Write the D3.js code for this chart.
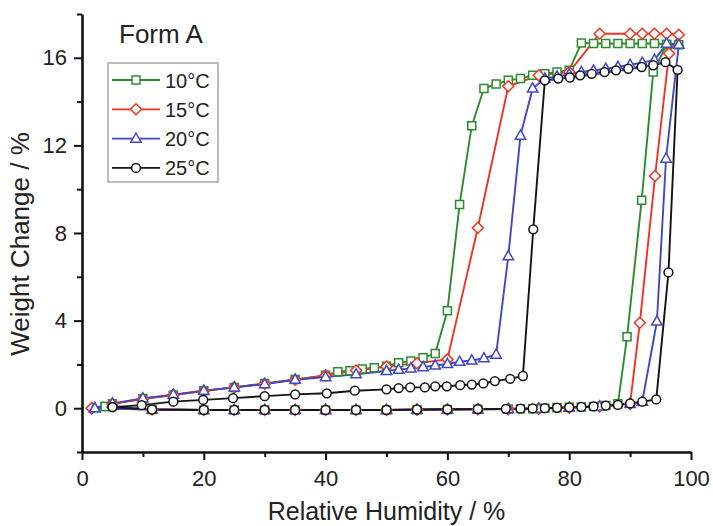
<!DOCTYPE html>
<html>
<head>
<meta charset="utf-8">
<script src="https://cdn.jsdelivr.net/npm/d3@7"></script>
<style>
  body { margin: 0; background: #fff; }
  text { font-family: "Liberation Sans", Arial, Helvetica, sans-serif; fill: #222; }
</style>
</head>
<body>
<svg id="chart" width="713" height="526"></svg>
<script>
// Water sorption / desorption isotherms of Form A: [relative humidity %, weight change %]
const sorp10 = [[3.8,0.08],[11.5,-0.06],[20,-0.08],[25,-0.08],[30,-0.08],[35,-0.08],[40,-0.08],[45,-0.08],[50,-0.08],[55,-0.07],[60,-0.06],[65,-0.05],[70,-0.04],[72,-0.03],[74,-0.02],[76,0],[78,0.02],[80,0.04],[82,0.06],[84,0.08],[86,0.12],[88,0.2],[89.5,3.26],[91.9,9.5],[93.8,15.35],[96,16.6],[98,16.6]];
const desorp10 = [[96,16.62],[94,16.65],[92,16.65],[90,16.65],[88,16.65],[86,16.65],[84,16.65],[82,16.68],[80,15.43],[78,15.35],[76,15.27],[74,15.2],[72,15.05],[70,14.97],[68,14.8],[66,14.6],[64,12.9],[62,9.3],[60,4.45],[58,2.5],[56,2.3],[54,2.15],[52,2.08],[50,1.92],[48,1.85],[46,1.79],[44,1.71],[42,1.67],[40,1.5],[35,1.31],[30,1.13],[25,0.95],[20,0.8],[15,0.6],[10,0.44],[5,0.2],[3.8,0.08]];

const sorp15 = [[1.6,0],[11.5,-0.06],[20,-0.08],[25,-0.08],[30,-0.08],[35,-0.08],[40,-0.08],[45,-0.08],[50,-0.08],[55,-0.07],[60,-0.06],[65,-0.05],[70,-0.04],[75,-0.02],[80,0.02],[85,0.08],[90,0.2],[91.6,3.9],[94.1,10.6],[96.4,16.2],[98,17.05]];
const desorp15 = [[96,17.1],[94,17.1],[92,17.1],[90,17.1],[85,17.1],[80,15.35],[75,15.2],[70,14.7],[65,8.24],[60,2.23],[55,2.05],[50,1.9],[45,1.72],[40,1.5],[35,1.3],[30,1.12],[25,0.95],[20,0.78],[15,0.6],[10,0.42],[5,0.2],[1.6,0]];

const sorp20 = [[2.1,0],[11.5,-0.06],[20,-0.08],[25,-0.08],[30,-0.08],[35,-0.08],[40,-0.08],[45,-0.08],[50,-0.08],[55,-0.07],[60,-0.06],[65,-0.05],[70,-0.04],[75,-0.02],[80,0.02],[85,0.08],[90,0.2],[92,0.3],[94.4,3.96],[95.9,11.4],[98,16.6]];
const desorp20 = [[96,16.65],[94,15.9],[92,15.78],[90,15.68],[88,15.58],[86,15.5],[84,15.42],[82,15.35],[80,15.25],[78,15.15],[76,15.05],[74,14.6],[72,12.45],[70,6.94],[68,2.45],[66,2.28],[64,2.18],[62,2.12],[60,2.02],[58,1.95],[56,1.88],[54,1.82],[52,1.76],[50,1.7],[45,1.55],[40,1.42],[35,1.3],[30,1.1],[25,0.95],[20,0.8],[15,0.62],[10,0.45],[5,0.22],[2.1,0]];

const sorp25 = [[5,0.05],[11.5,-0.06],[20,-0.08],[25,-0.08],[30,-0.08],[35,-0.08],[40,-0.08],[45,-0.08],[50,-0.08],[55,-0.06],[60,-0.05],[65,-0.04],[69.6,-0.03],[72,-0.02],[74,-0.01],[76,0],[78,0.02],[80,0.04],[82,0.06],[84,0.08],[86,0.12],[88,0.15],[90,0.22],[92,0.3],[94.3,0.4],[96.3,6.2],[97.8,15.45]];
const desorp25 = [[95.8,15.8],[93.8,15.66],[91.9,15.58],[89.7,15.5],[87.7,15.43],[85.8,15.35],[83.7,15.27],[81.8,15.2],[80.1,15.1],[78.2,15.05],[76,14.97],[74.1,8.17],[72.4,1.47],[70.3,1.34],[67.8,1.24],[65.9,1.13],[64,1.08],[62.1,1.05],[59.9,1.0],[58,1.0],[56.3,0.95],[53.9,0.95],[52,0.92],[50,0.86],[44.8,0.8],[40.2,0.68],[35,0.63],[30,0.55],[24.8,0.46],[19.9,0.38],[15,0.3],[9.8,0.14],[5,0.05]];

const seriesLabels = ["10°C", "15°C", "20°C", "25°C"];
const seriesColors = ["#2a8c2e", "#ee3524", "#4048c4", "#141414"];
const seriesShapes = ["square", "diamond", "triangle", "circle"];
const seriesData = [sorp10.concat(desorp10), sorp15.concat(desorp15), sorp20.concat(desorp20), sorp25.concat(desorp25)];

const xMajorTicks = [0, 20, 40, 60, 80, 100];
const xMinorTicks = [10, 30, 50, 70, 90];
const yMajorTicks = [0, 4, 8, 12, 16];
const yMinorTicks = [-2, 2, 6, 10, 14, 18];

const svg = d3.select("#chart");
const x = d3.scaleLinear().domain([0, 100]).range([82, 691]);
const y = d3.scaleLinear().domain([-2, 18]).range([452, 14]);

// marker outlines centred on the origin
function markerPath(shape) {
  if (shape === "square") return "M-4,-4H4V4H-4Z";
  if (shape === "diamond") return "M0,-5.5L5.5,0L0,5.5L-5.5,0Z";
  if (shape === "triangle") return "M0,-5.6L5.2,3.6L-5.2,3.6Z";
  return d3.arc()({innerRadius: 0, outerRadius: 4.4, startAngle: 0, endAngle: 2 * Math.PI});
}

// axes: minor ticks first, then major ticks with labels and the axis line
const fontSize = "22px";
svg.append("g").attr("transform", `translate(0,${y(-2)})`)
  .call(d3.axisBottom(x).tickValues(xMinorTicks).tickSize(5).tickSizeOuter(0).tickFormat(""))
  .call(g => g.select(".domain").remove())
  .call(g => g.selectAll("line").attr("stroke", "#111").attr("stroke-width", 2));
svg.append("g").attr("transform", `translate(0,${y(-2)})`)
  .call(d3.axisBottom(x).tickValues(xMajorTicks).tickSize(8).tickSizeOuter(0).tickPadding(10))
  .call(g => g.select(".domain").attr("stroke", "#111").attr("stroke-width", 2.6))
  .call(g => g.selectAll("line").attr("stroke", "#111").attr("stroke-width", 2))
  .call(g => g.selectAll("text").style("font-size", fontSize).attr("fill", "#222"));

svg.append("g").attr("transform", `translate(${x(0)},0)`)
  .call(d3.axisLeft(y).tickValues(yMinorTicks).tickSize(5).tickSizeOuter(0).tickFormat(""))
  .call(g => g.select(".domain").remove())
  .call(g => g.selectAll("line").attr("stroke", "#111").attr("stroke-width", 2));
svg.append("g").attr("transform", `translate(${x(0)},0)`)
  .call(d3.axisLeft(y).tickValues(yMajorTicks).tickSize(8).tickSizeOuter(0).tickPadding(7))
  .call(g => g.select(".domain").attr("stroke", "#111").attr("stroke-width", 2.6))
  .call(g => g.selectAll("line").attr("stroke", "#111").attr("stroke-width", 2))
  .call(g => g.selectAll("text").style("font-size", fontSize).attr("fill", "#222"));

// axis titles
svg.append("text").attr("x", (x(0) + x(100)) / 2).attr("y", 520)
  .attr("text-anchor", "middle").style("font-size", "25px")
  .text("Relative Humidity / %");
svg.append("text").attr("transform", "translate(29,244) rotate(-90)")
  .attr("text-anchor", "middle").style("font-size", "26px")
  .text("Weight Change / %");

svg.append("text").attr("x", 119).attr("y", 43).style("font-size", "26px").text("Form A");

// isotherm lines
const line = d3.line().x(d => x(d[0])).y(d => y(d[1]));
seriesData.forEach((data, i) => {
  svg.append("path").datum(data)
    .attr("d", line).attr("fill", "none")
    .attr("stroke", seriesColors[i]).attr("stroke-width", 1.9)
    .attr("stroke-linejoin", "round");
});

// open markers
seriesData.forEach((data, i) => {
  svg.append("g").selectAll("path").data(data).join("path")
    .attr("transform", d => `translate(${x(d[0])},${y(d[1])})`)
    .attr("d", markerPath(seriesShapes[i]))
    .attr("fill", "#fff").attr("stroke", seriesColors[i]).attr("stroke-width", 1.5);
});

// legend
const legend = svg.append("g");
legend.append("rect").attr("x", 108).attr("y", 63).attr("width", 110).attr("height", 119)
  .attr("fill", "#fff").attr("stroke", "#999").attr("stroke-width", 1.3);
seriesLabels.forEach((label, i) => {
  const cy = 80 + i * 29.3;
  legend.append("line").attr("x1", 112).attr("x2", 160).attr("y1", cy).attr("y2", cy)
    .attr("stroke", seriesColors[i]).attr("stroke-width", 1.8);
  legend.append("path").attr("transform", `translate(136,${cy})`)
    .attr("d", markerPath(seriesShapes[i]))
    .attr("fill", "#fff").attr("stroke", seriesColors[i]).attr("stroke-width", 1.5);
  legend.append("text").attr("x", 165).attr("y", cy + 7.5).style("font-size", "20px").text(label);
});
</script>
</body>
</html>
